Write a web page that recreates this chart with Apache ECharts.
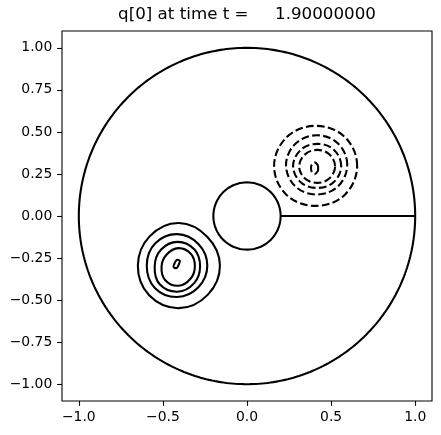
<!DOCTYPE html>
<html>
<head>
<meta charset="utf-8">
<script src="https://cdn.jsdelivr.net/npm/echarts@6/dist/echarts.min.js"></script>
<style>
html,body{margin:0;padding:0;background:#fff;}
#chart{width:441px;height:435px;}
</style>
</head>
<body>
<div id="chart"></div>
<script>
// ---- data ----
const titleText = 'q[0] at time t =     1.90000000';
const xTicks = [-1.0, -0.5, 0.0, 0.5, 1.0];
const yTicks = [-1.0, -0.75, -0.5, -0.25, 0.0, 0.25, 0.5, 0.75, 1.0];
const xRange = [-1.1, 1.1];
const yRange = [-1.1, 1.1];

// domain boundary: outer circle, inner circle, slit
const outerRadius = 1.0;
const innerRadius = 0.2;
const slitX = [0.2, 1.0];
const slitY = [0.0, 0.0];

// contour sample angles (degrees)
const contourAngles = [0, 45, 90, 135, 180, 225, 270, 315];

// positive contours (solid) - centres and radii at contourAngles
const solidCenters = [
  [-0.405, -0.295],
  [-0.415, -0.295],
  [-0.413, -0.300],
  [-0.408, -0.301],
  [-0.418, -0.285]
];
const solidRadii = [
  [0.244, 0.240, 0.253, 0.246, 0.244, 0.250, 0.253, 0.244],
  [0.179, 0.180, 0.187, 0.186, 0.181, 0.188, 0.187, 0.180],
  [0.134, 0.142, 0.146, 0.140, 0.136, 0.150, 0.150, 0.140],
  [0.098, 0.106, 0.110, 0.100, 0.100, 0.112, 0.114, 0.102],
  [0.014, 0.026, 0.0235, 0.0137, 0.014, 0.026, 0.0235, 0.0137]
];

// negative contours (dashed)
const dashedCenters = [
  [0.408, 0.298],
  [0.414, 0.304],
  [0.417, 0.298],
  [0.417, 0.295],
  [0.402, 0.284]
];
const dashedRadii = [
  [0.247, 0.244, 0.238, 0.242, 0.247, 0.244, 0.238, 0.244],
  [0.182, 0.180, 0.176, 0.178, 0.182, 0.180, 0.176, 0.180],
  [0.143, 0.138, 0.131, 0.136, 0.143, 0.138, 0.131, 0.138],
  [0.107, 0.102, 0.098, 0.101, 0.107, 0.102, 0.098, 0.102],
  [0.021, 0.026, 0.035, 0.026, 0.021, 0.026, 0.035, 0.026]
];

// ---- build ----
function circlePoints(r, n) {
  const pts = [];
  for (let i = 0; i <= n; i++) {
    const t = 2 * Math.PI * i / n;
    pts.push([r * Math.cos(t), r * Math.sin(t)]);
  }
  return pts;
}

const contours = [];
solidCenters.forEach((c, i) => contours.push({c: c, r: solidRadii[i], dashed: false}));
dashedCenters.forEach((c, i) => contours.push({c: c, r: dashedRadii[i], dashed: true}));

const fmtMinus = s => s.replace('-', '\u2212');
const FONT = 'DejaVu Sans';
const LW = 2.08;

const lineBase = {
  type: 'line', showSymbol: false, silent: true, animation: false,
  lineStyle: {color: '#000', width: LW}, z: 3
};

const chart = echarts.init(document.getElementById('chart'), null, {renderer: 'canvas'});
chart.setOption({
  animation: false,
  backgroundColor: '#fff',
  title: {
    text: titleText,
    left: 247, top: 4, textAlign: 'center', padding: 0,
    textStyle: {fontFamily: FONT, fontSize: 16.7, lineHeight: 22, fontWeight: 'normal', color: '#000'}
  },
  grid: {
    left: 62, top: 31, width: 370, height: 370,
    show: true, borderColor: '#000', borderWidth: 1.1, backgroundColor: 'transparent'
  },
  xAxis: {
    type: 'value', min: xRange[0], max: xRange[1],
    axisLine: {show: false, onZero: false},
    splitLine: {show: false},
    axisTick: {show: true, length: 4.9, customValues: xTicks, lineStyle: {color: '#000', width: 1.1}},
    axisLabel: {
      customValues: xTicks, margin: 9.7, color: '#000', fontFamily: FONT, fontSize: 13.9,
      formatter: v => fmtMinus(v.toFixed(1))
    }
  },
  yAxis: {
    type: 'value', min: yRange[0], max: yRange[1],
    axisLine: {show: false, onZero: false},
    splitLine: {show: false},
    axisTick: {show: true, length: 4.9, customValues: yTicks, lineStyle: {color: '#000', width: 1.1}},
    axisLabel: {
      customValues: yTicks, margin: 9.7, color: '#000', fontFamily: FONT, fontSize: 13.9,
      formatter: v => fmtMinus(v.toFixed(2))
    }
  },
  series: [
    Object.assign({}, lineBase, {data: circlePoints(outerRadius, 360)}),
    Object.assign({}, lineBase, {data: circlePoints(innerRadius, 180)}),
    Object.assign({}, lineBase, {data: slitX.map((x, i) => [x, slitY[i]])}),
    {
      type: 'custom',
      coordinateSystem: 'cartesian2d',
      silent: true, animation: false, clip: false, z: 3,
      data: contours.map((c, i) => [c.c[0], c.c[1], i]),
      renderItem: function (params, api) {
        const ct = contours[params.dataIndex];
        const pts = contourAngles.map((a, k) => {
          const t = a * Math.PI / 180;
          return api.coord([ct.c[0] + ct.r[k] * Math.cos(t), ct.c[1] + ct.r[k] * Math.sin(t)]);
        });
        return {
          type: 'polygon',
          shape: {points: pts, smooth: 0.375},
          style: {
            fill: 'none', stroke: '#000', lineWidth: LW,
            lineDash: ct.dashed ? [7.7, 3.33] : null
          }
        };
      }
    }
  ]
});
</script>
</body>
</html>
